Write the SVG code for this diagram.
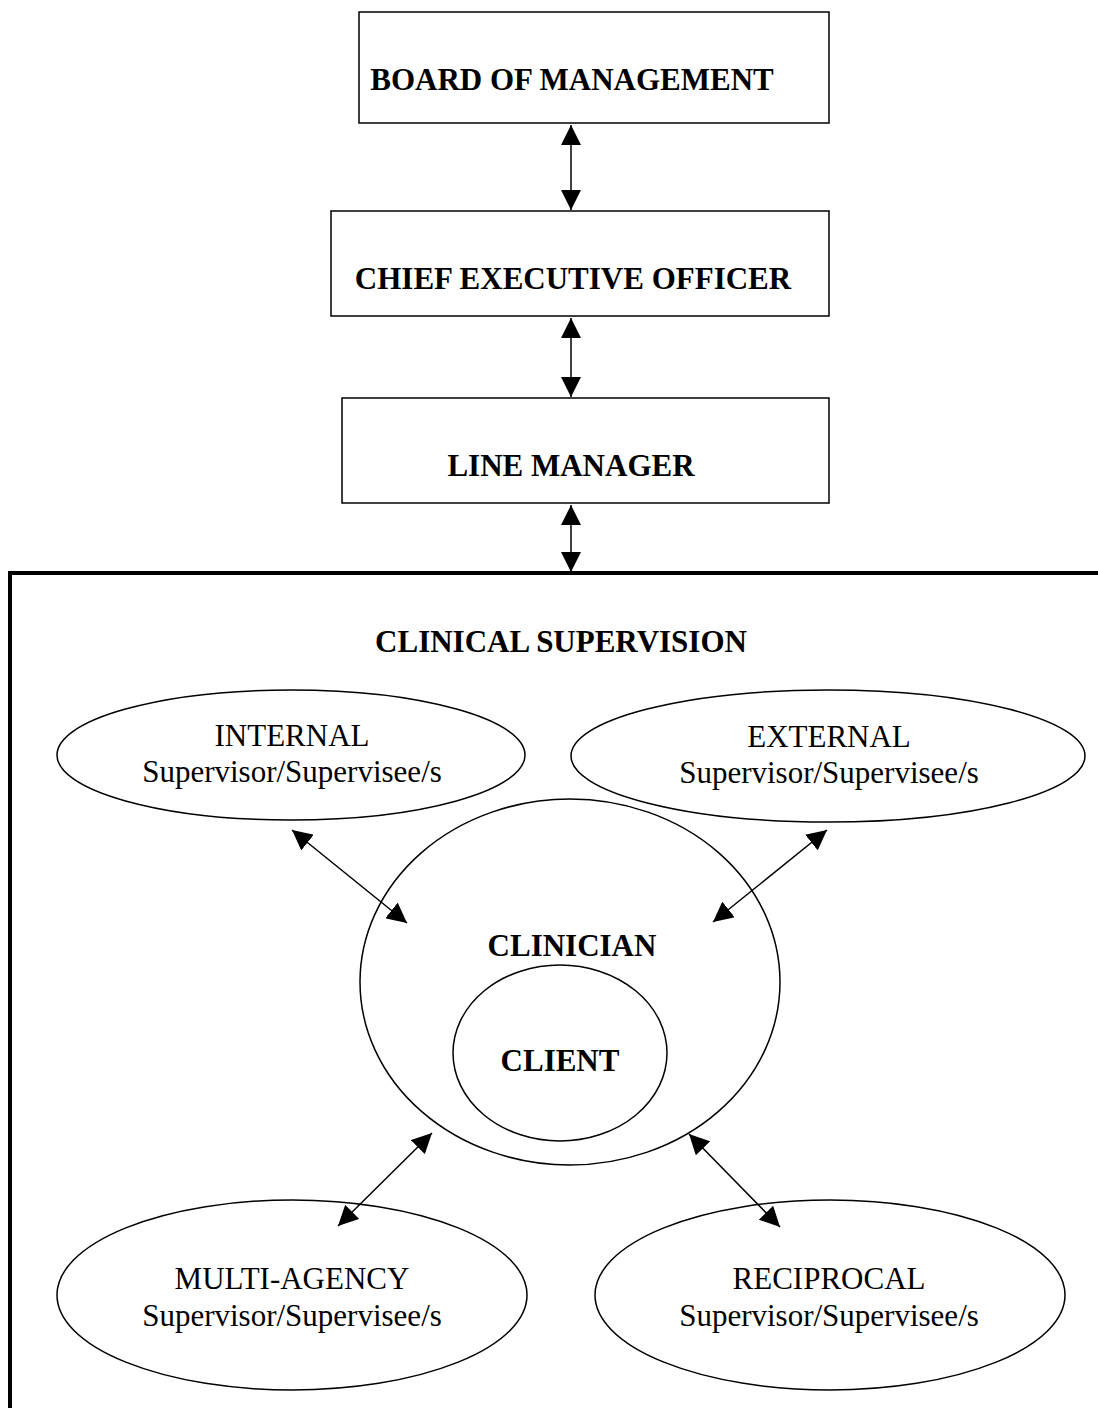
<svg xmlns="http://www.w3.org/2000/svg" width="1098" height="1408" viewBox="0 0 1098 1408">
<style>
.box{fill:#fff;stroke:#000;stroke-width:1.5}
.ell{fill:#fff;stroke:#000;stroke-width:1.5}
.b{font-family:"Liberation Serif","Times New Roman",serif;font-weight:bold;font-size:31px;text-anchor:middle;fill:#000}
.r{font-family:"Liberation Serif","Times New Roman",serif;font-size:31px;text-anchor:middle;fill:#000}
.conn{stroke:#000;stroke-width:1.5;fill:none;marker-start:url(#ah);marker-end:url(#ah)}
</style>
<defs>
<marker id="ah" markerUnits="userSpaceOnUse" markerWidth="20" markerHeight="20" refX="20" refY="10" orient="auto-start-reverse" viewBox="0 0 20 20">
<path d="M0,0 L20,10 L0,20 Z" fill="#000"/>
</marker>
</defs>
<rect width="1098" height="1408" fill="#fff"/>
<g id="frame">
<path d="M10,1412 V573 H1102" fill="none" stroke="#000" stroke-width="4"/>
</g>
<g id="board">
<rect class="box" x="359" y="12" width="470" height="111"/>
<text class="b" x="572" y="90">BOARD OF MANAGEMENT</text>
</g>
<g id="ceo">
<rect class="box" x="331" y="211" width="498" height="105"/>
<text class="b" x="573" y="289">CHIEF EXECUTIVE OFFICER</text>
</g>
<g id="linemanager">
<rect class="box" x="342" y="398" width="487" height="105"/>
<text class="b" x="571" y="476">LINE MANAGER</text>
</g>
<g id="clinicalsupervision">
<text class="b" x="561" y="652">CLINICAL SUPERVISION</text>
</g>
<g id="internal">
<ellipse class="ell" cx="291" cy="755" rx="234" ry="65"/>
<text class="r" x="292" y="746">INTERNAL</text>
<text class="r" x="292" y="782">Supervisor/Supervisee/s</text>
</g>
<g id="external">
<ellipse class="ell" cx="828" cy="756" rx="257" ry="66"/>
<text class="r" x="829" y="747">EXTERNAL</text>
<text class="r" x="829" y="783">Supervisor/Supervisee/s</text>
</g>
<g id="clinician">
<ellipse class="ell" cx="570" cy="982" rx="210" ry="183"/>
<text class="b" x="572" y="956">CLINICIAN</text>
</g>
<g id="client">
<ellipse class="ell" cx="560" cy="1053" rx="107" ry="88"/>
<text class="b" x="560" y="1071">CLIENT</text>
</g>
<g id="multiagency">
<ellipse class="ell" cx="292" cy="1295" rx="235" ry="95"/>
<text class="r" x="292" y="1289">MULTI-AGENCY</text>
<text class="r" x="292" y="1326">Supervisor/Supervisee/s</text>
</g>
<g id="reciprocal">
<ellipse class="ell" cx="830" cy="1295" rx="235" ry="95"/>
<text class="r" x="829" y="1289">RECIPROCAL</text>
<text class="r" x="829" y="1326">Supervisor/Supervisee/s</text>
</g>
<g id="connectors">
<line class="conn" x1="571" y1="125" x2="571" y2="210"/>
<line class="conn" x1="571" y1="318" x2="571" y2="397"/>
<line class="conn" x1="571" y1="505" x2="571" y2="572"/>
<line class="conn" x1="292" y1="830" x2="407" y2="923"/>
<line class="conn" x1="827" y1="830" x2="713" y2="922"/>
<line class="conn" x1="432" y1="1133" x2="338" y2="1226"/>
<line class="conn" x1="689" y1="1134" x2="780" y2="1227"/>
</g>
</svg>
